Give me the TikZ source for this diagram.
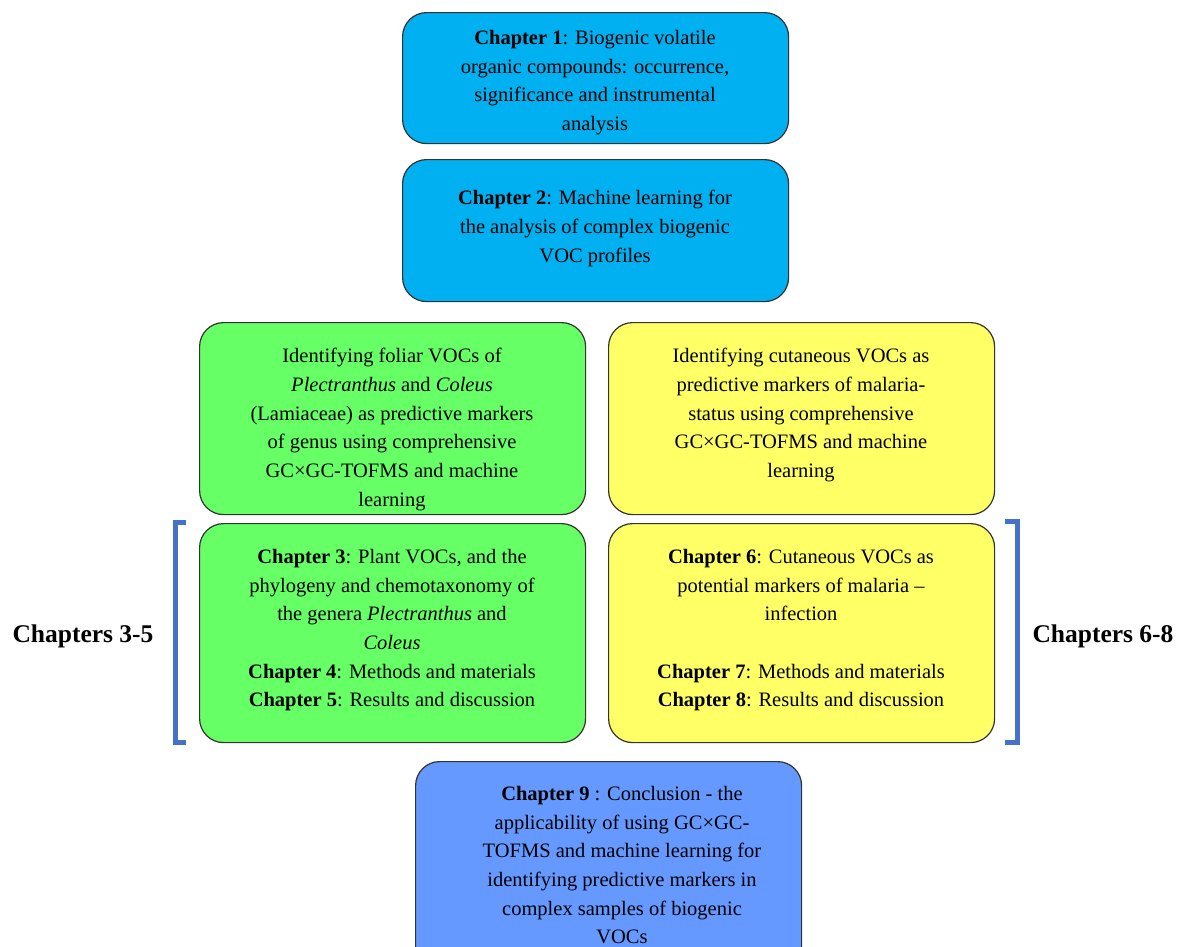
\documentclass[tikz,border=0pt]{standalone}
\usepackage{fontspec}
\setmainfont{Liberation Serif}
\definecolor{cyanbox}{HTML}{00B0F0}
\definecolor{greenbox}{HTML}{66FF66}
\definecolor{yellowbox}{HTML}{FFFF66}
\definecolor{bluebox}{HTML}{6699FF}
\definecolor{bracketblue}{HTML}{4472C4}
\tikzset{
  box/.style={draw=black!80, line width=1.2pt, rounded corners=24pt, minimum width=386pt, anchor=north west, inner sep=0pt},
  txt/.style={font=\fontsize{20.5}{28.7}\selectfont, align=center, anchor=north, inner sep=0pt},
  brk/.style={draw=bracketblue, line width=5pt},
  side/.style={font=\fontsize{25.5}{28}\selectfont\bfseries, inner sep=0pt}
}
\begin{document}
\begin{tikzpicture}[x=1pt,y=-1pt]
\clip (0,0) rectangle (1178,946);
% boxes
\node[box, fill=cyanbox, minimum height=131pt] (b1) at (402,12) {};
\node[box, fill=cyanbox, minimum height=142pt] (b2) at (402,159) {};
\node[box, fill=greenbox, minimum height=192pt] (b3) at (199,322) {};
\node[box, fill=yellowbox, minimum height=192pt] (b4) at (608,322) {};
\node[box, fill=greenbox, minimum height=219pt] (b5) at (199,523) {};
\node[box, fill=yellowbox, minimum height=219pt] (b6) at (608,523) {};
\node[box, fill=bluebox, minimum height=215pt] (b7) at (415,761) {};
% texts
\node[txt] (t1) at (595,30) {\textbf{Chapter 1}: Biogenic volatile\\organic compounds: occurrence,\\significance and instrumental\\analysis};
\node[txt] (t2) at (595,190) {\textbf{Chapter 2}: Machine learning for\\the analysis of complex biogenic\\VOC profiles};
\node[txt] (t3) at (392,348) {Identifying foliar VOCs of\\\textit{Plectranthus} and \textit{Coleus}\\(Lamiaceae) as predictive markers\\of genus using comprehensive\\GC×GC-TOFMS and machine\\learning};
\node[txt] (t4) at (801,348) {Identifying cutaneous VOCs as\\predictive markers of malaria-\\status using comprehensive\\GC×GC-TOFMS and machine\\learning};
\node[txt] (t5) at (392,549) {\textbf{Chapter 3}: Plant VOCs, and the\\phylogeny and chemotaxonomy of\\the genera \textit{Plectranthus} and\\\textit{Coleus}\\\textbf{Chapter 4}: Methods and materials\\\textbf{Chapter 5}: Results and discussion};
\node[txt] (t6) at (801,549) {\textbf{Chapter 6}: Cutaneous VOCs as\\potential markers of malaria –\\infection\\[28.7pt]\textbf{Chapter 7}: Methods and materials\\\textbf{Chapter 8}: Results and discussion};
\node[txt] (t7) at (622,786) {\textbf{Chapter 9} : Conclusion - the\\applicability of using GC×GC-\\TOFMS and machine learning for\\identifying predictive markers in\\complex samples of biogenic\\VOCs};
% brackets
\coordinate (l1) at (186,522.5);
\coordinate (l2) at (175,522.5);
\coordinate (l3) at (175,742.5);
\coordinate (l4) at (186,742.5);
\draw[brk] (l1) -- (l2) -- (l3) -- (l4);
\coordinate (r1) at (1005,521);
\coordinate (r2) at (1017,521);
\coordinate (r3) at (1017,742.5);
\coordinate (r4) at (1005,742.5);
\draw[brk] (r1) -- (r2) -- (r3) -- (r4);
% side labels
\node[side] (s1) at (83,636) {Chapters 3-5};
\node[side] (s2) at (1103,636) {Chapters 6-8};
\end{tikzpicture}
\end{document}
